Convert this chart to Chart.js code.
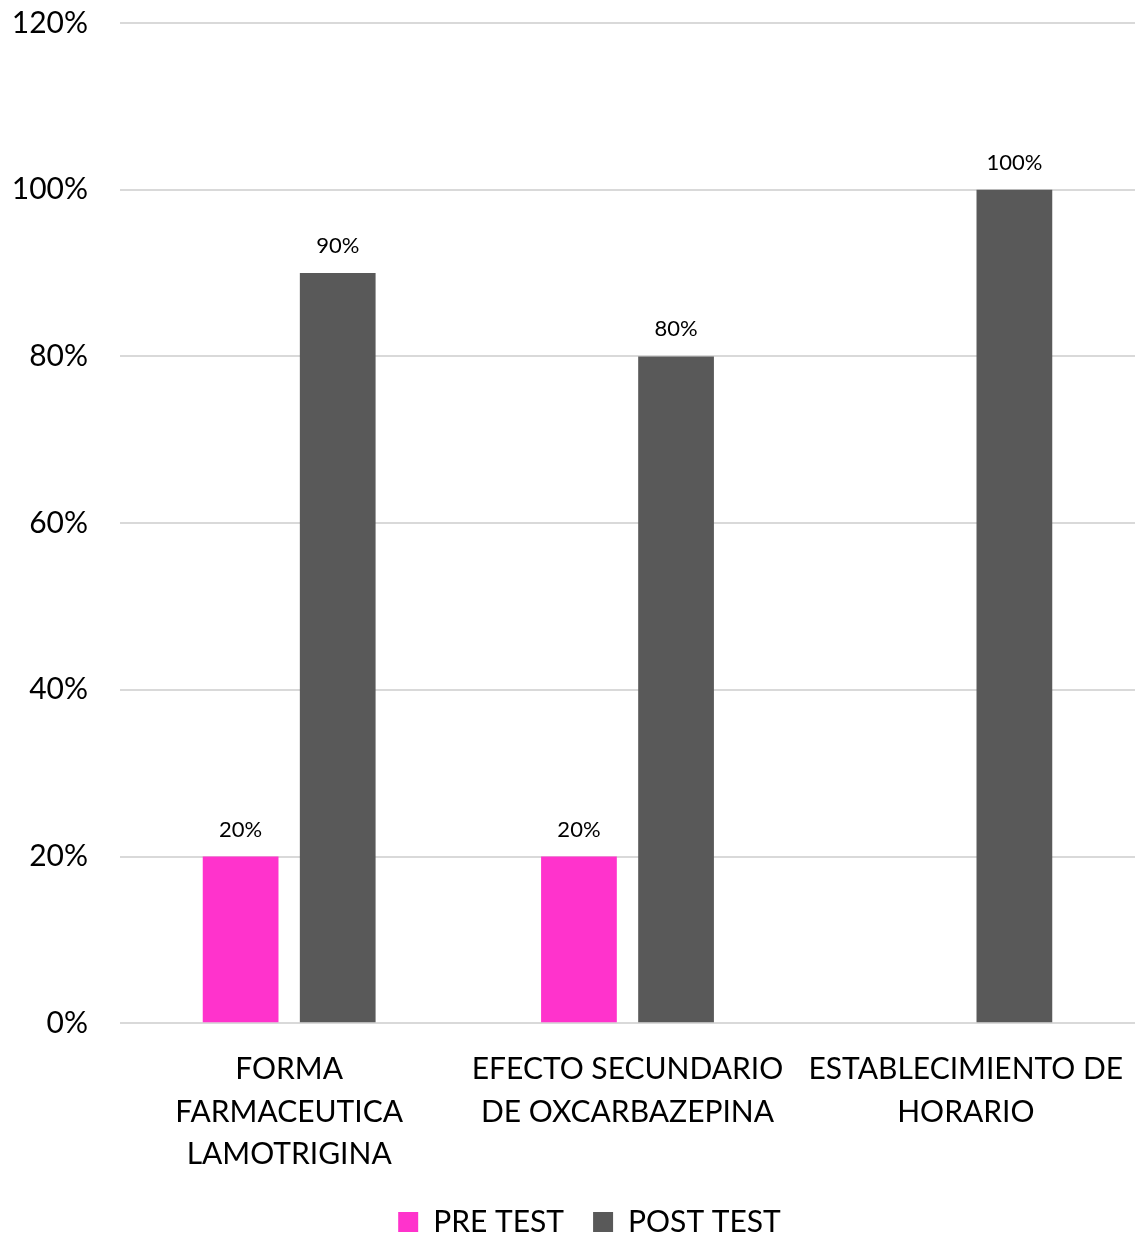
<!DOCTYPE html>
<html>
<head>
<meta charset="utf-8">
<script src="https://cdn.jsdelivr.net/npm/chart.js@4"></script>
<style>
  html, body { margin: 0; padding: 0; background: #fff; }
  #wrap { width: 1135px; height: 1234px; position: relative; }
</style>
</head>
<body>
<div id="wrap"><canvas id="chart"></canvas></div>
<script>
const categories = [
  ['FORMA', 'FARMACEUTICA', 'LAMOTRIGINA'],
  ['EFECTO SECUNDARIO', 'DE OXCARBAZEPINA'],
  ['ESTABLECIMIENTO DE', 'HORARIO']
];
const preTest = [20, 20, null];
const postTest = [90, 80, 100];
const yTicks = [0, 20, 40, 60, 80, 100, 120];

const FONT = 'Lato, "Open Sans", sans-serif';

// draw the value above each bar
const barLabels = {
  id: 'barLabels',
  afterDatasetsDraw(chart) {
    const ctx = chart.ctx;
    ctx.save();
    ctx.font = '22px ' + FONT;
    ctx.fillStyle = '#000';
    ctx.textAlign = 'center';
    ctx.textBaseline = 'middle';
    chart.data.datasets.forEach((ds, i) => {
      chart.getDatasetMeta(i).data.forEach((bar, j) => {
        const v = ds.data[j];
        if (v == null) return;
        ctx.fillText(v + '%', bar.x, bar.y - 27);
      });
    });
    ctx.restore();
  }
};

// the original legend sits a bit right of the page centre
const legendShift = {
  id: 'legendShift',
  afterLayout(chart) {
    const lg = chart.legend;
    if (!lg) return;
    lg.left += 22;
    lg.right += 22;
    lg.adjustHitBoxes();
  }
};

new Chart(document.getElementById('chart'), {
  type: 'bar',
  data: {
    labels: categories,
    datasets: [
      { label: 'PRE TEST', data: preTest, backgroundColor: '#FF33CC' },
      { label: 'POST TEST', data: postTest, backgroundColor: '#595959' }
    ]
  },
  options: {
    responsive: true,
    maintainAspectRatio: false,
    animation: false,
    categoryPercentage: 0.574,
    barPercentage: 0.78,
    layout: { padding: { top: 23, right: 0, bottom: -13, left: 0 } },
    scales: {
      x: {
        afterFit(axis) { axis.paddingLeft = 0; axis.paddingRight = 0; },
        grid: { display: false, drawTicks: false },
        border: { display: false },
        ticks: {
          color: '#000',
          font: { family: FONT, size: 30, lineHeight: 1.42 },
          padding: 25,
          maxRotation: 0,
          autoSkip: false
        }
      },
      y: {
        min: 0,
        max: 120,
        afterBuildTicks(axis) { axis.ticks = yTicks.map(v => ({ value: v })); },
        afterFit(axis) { axis.width = 120; axis.paddingTop = 0; axis.paddingBottom = 0; },
        grid: { color: '#d9d9d9', lineWidth: 2, drawTicks: false },
        border: { display: false },
        ticks: {
          color: '#000',
          font: { family: FONT, size: 30 },
          padding: 32,
          callback: v => v + '%'
        }
      }
    },
    plugins: {
      legend: {
        position: 'bottom',
        labels: {
          color: '#000',
          font: { family: FONT, size: 30 },
          boxWidth: 20,
          boxHeight: 20,
          padding: 6,
          generateLabels(chart) {
            // extra room after the first legend text, like the original
            return Chart.defaults.plugins.legend.labels.generateLabels(chart)
              .map((l, i) => Object.assign(l, { text: i === 0 ? l.text + '   ' : l.text }));
          }
        }
      },
      tooltip: { enabled: false }
    }
  },
  plugins: [barLabels, legendShift]
});
</script>
</body>
</html>
